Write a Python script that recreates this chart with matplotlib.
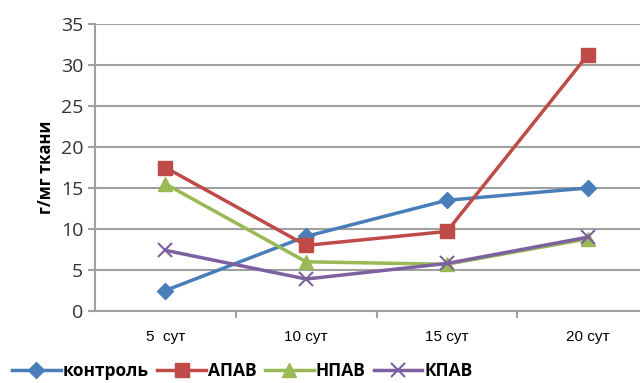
import matplotlib.pyplot as plt

days = ["5  сут", "10 сут", "15 сут", "20 сут"]

kontrol = [2.5, 9.1, 13.5, 15.0]
apav = [17.5, 8.0, 9.7, 31.2]
npav = [15.5, 6.0, 5.7, 8.8]
kpav = [7.4, 3.9, 5.8, 9.0]

x = list(range(len(days)))

fig = plt.figure(figsize=(6.4, 3.83), dpi=100)
# the original picture is cropped on the right, so the axes run past the edge
ax = fig.add_axes([95 / 640, 1 - 311 / 383, 563 / 640, 287 / 383])

ax.plot(x, kontrol, color="#4A7EBB", lw=2.5, marker="D", ms=8, label="контроль")
ax.plot(x, apav, color="#BE4B48", lw=2.5, marker="s", ms=10, label="АПАВ")
ax.plot(x, npav, color="#98B954", lw=2.5, marker="^", ms=10, label="НПАВ")
ax.plot(x, kpav, color="#7D60A0", lw=2.5, marker="x", ms=10, mew=1.5, label="КПАВ")

ax.set_ylim(0, 35)
ax.set_yticks(range(0, 36, 5))
ax.set_xlim(-0.5, 3.5)
ax.set_xticks(x)
ax.set_xticklabels(days, fontsize=11, family="Liberation Sans")
ax.set_xticks([0.5, 1.5, 2.5], minor=True)
ax.tick_params(axis="x", which="major", length=0, pad=14)
ax.tick_params(axis="x", which="minor", length=5, color="#a0a0a0", width=1.5)
ax.tick_params(axis="y", length=5, color="#a0a0a0", width=1.5, labelsize=14, labelcolor="#333333")
for lab in ax.get_yticklabels():
    lab.set_family("Open Sans")

ax.grid(axis="y", color="#a0a0a0", lw=1.5)
ax.set_axisbelow(True)
for s in ["top", "right"]:
    ax.spines[s].set_visible(False)
ax.spines["left"].set_color("#a0a0a0")
ax.spines["bottom"].set_color("#a0a0a0")
ax.spines["left"].set_linewidth(1.5)
ax.spines["bottom"].set_linewidth(1.5)

ax.set_ylabel("г/мг ткани", fontsize=12, fontweight="bold", family="Open Sans", labelpad=4)

fig.legend(loc="lower left", bbox_to_anchor=(0.0, -0.025), ncol=4, frameon=False,
           handlelength=2.8, handletextpad=0.1, columnspacing=0.5, borderaxespad=0.3,
           prop={"family": "Open Sans", "size": 12.5, "weight": "bold"})

fig.savefig("out.png", dpi=100)
